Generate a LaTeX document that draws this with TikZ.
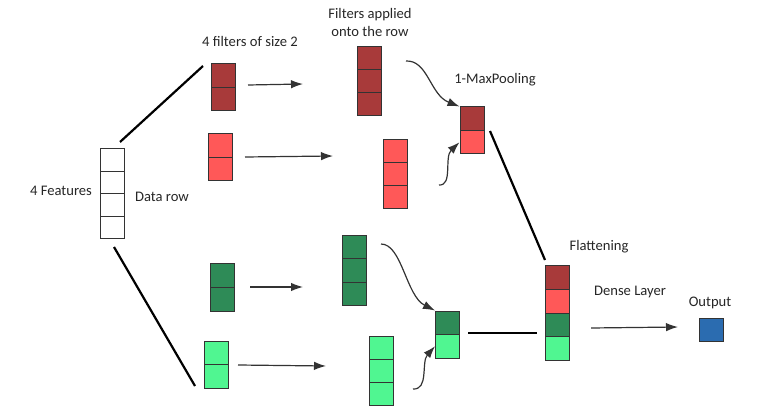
\documentclass[tikz,border=0pt]{standalone}
\usepackage{fontspec}
\setmainfont{Carlito}
\usetikzlibrary{arrows.meta}
\definecolor{dred}{RGB}{168,58,58}
\definecolor{lred}{RGB}{255,88,88}
\definecolor{dgreen}{RGB}{46,139,87}
\definecolor{lgreen}{RGB}{80,246,145}
\definecolor{oblue}{RGB}{43,108,176}
\begin{document}
\begin{tikzpicture}[x=1pt, y=-1pt,
    cell/.style={draw=black!80, line width=1pt, inner sep=0pt,
        minimum width=24pt, minimum height=23.5pt},
    conn/.style={line width=2.2pt},
    arr/.style={draw=black!80, line width=1.2pt, -{Latex[length=12pt, width=8.5pt]}},
    lbl/.style={font=\fontsize{14.6}{18}\selectfont, text=black!85}]
    \useasboundingbox (0, 0) rectangle (767, 419);
    % data row
    \node[cell, minimum height=22.5pt] (d1) at(112, 160.25) {};
    \node[cell, minimum height=22.5pt] (d2) at(112, 182.75) {};
    \node[cell, minimum height=22.5pt] (d3) at(112, 205.25) {};
    \node[cell, minimum height=22.5pt] (d4) at(112, 227.75) {};
    \node[lbl] (feat) at(61, 191) {4 Features};
    \node[lbl] (row) at(162, 197) {Data row};
    % filters
    \node[lbl] (filt) at(250, 41) {4 filters of size 2};
    \node[cell, fill=dred] (fa1) at(223, 75.75) {};
    \node[cell, fill=dred] (fa2) at(223, 99.25) {};
    \node[cell, fill=lred] (fb1) at(220.5, 145.75) {};
    \node[cell, fill=lred] (fb2) at(220.5, 169.25) {};
    \node[cell, fill=dgreen] (fc1) at(222, 275.75) {};
    \node[cell, fill=dgreen] (fc2) at(222, 299.25) {};
    \node[cell, fill=lgreen] (fd1) at(216, 352.75) {};
    \node[cell, fill=lgreen] (fd2) at(216, 376.25) {};
    % filters applied
    \node[lbl, align=center] (appl) at(370, 22.5) {Filters applied\\onto the row};
    \node[cell, fill=dred, minimum height=23pt] (aa1) at(369, 58.5) {};
    \node[cell, fill=dred, minimum height=23pt] (aa2) at(369, 81.5) {};
    \node[cell, fill=dred, minimum height=23pt] (aa3) at(369, 104.5) {};
    \node[cell, fill=lred, minimum height=23pt] (ab1) at(395, 151.5) {};
    \node[cell, fill=lred, minimum height=23pt] (ab2) at(395, 174.5) {};
    \node[cell, fill=lred, minimum height=23pt] (ab3) at(395, 197.5) {};
    \node[cell, fill=dgreen, minimum height=23pt] (ac1) at(354, 247.5) {};
    \node[cell, fill=dgreen, minimum height=23pt] (ac2) at(354, 270.5) {};
    \node[cell, fill=dgreen, minimum height=23pt] (ac3) at(354, 293.5) {};
    \node[cell, fill=lgreen, minimum height=23pt] (ad1) at(381, 347.5) {};
    \node[cell, fill=lgreen, minimum height=23pt] (ad2) at(381, 370.5) {};
    \node[cell, fill=lgreen, minimum height=23pt] (ad3) at(381, 393.5) {};
    % max pooling
    \node[lbl] (maxp) at(495, 80) {1-MaxPooling};
    \node[cell, fill=dred] (pa1) at(472, 118.75) {};
    \node[cell, fill=lred] (pa2) at(472, 142.25) {};
    \node[cell, fill=dgreen] (pb1) at(447.5, 322.75) {};
    \node[cell, fill=lgreen] (pb2) at(447.5, 346.25) {};
    % flattening
    \node[lbl] (flat) at(599, 247) {Flattening};
    \node[cell, fill=dred] (fl1) at(557, 277.75) {};
    \node[cell, fill=lred] (fl2) at(557, 301.25) {};
    \node[cell, fill=dgreen] (fl3) at(557, 324.75) {};
    \node[cell, fill=lgreen] (fl4) at(557, 348.25) {};
    % output
    \node[lbl] (dense) at(630, 292) {Dense Layer};
    \node[lbl] (outl) at(710, 303) {Output};
    \node[cell, fill=oblue, minimum height=23pt] (out) at(711, 329.5) {};
    % free ends
    \coordinate (c1) at(120, 142);
    \coordinate (c2) at(203, 66);
    \coordinate (c3) at(114, 247);
    \coordinate (c4) at(195, 386);
    \coordinate (c5) at(490, 131);
    \coordinate (c6) at(545, 260);
    \coordinate (c7) at(468, 333);
    \coordinate (c8) at(537, 333);
    \coordinate (s1) at(248, 85);
    \coordinate (t1) at(303, 84);
    \coordinate (s2) at(245, 157);
    \coordinate (t2) at(333, 156);
    \coordinate (s3) at(250, 287);
    \coordinate (t3) at(303, 287);
    \coordinate (s4) at(238, 365);
    \coordinate (t4) at(326, 366);
    \coordinate (s5) at(406, 61);
    \coordinate (s6) at(439, 185);
    \coordinate (s7) at(381, 244);
    \coordinate (s8) at(413, 389);
    \coordinate (s9) at(591, 328);
    \coordinate (t9) at(678, 327);
    \draw[conn] (c1) -- (c2);
    \draw[conn] (c3) -- (c4);
    \draw[conn] (c5) -- (c6);
    \draw[conn] (c7) -- (c8);
    \draw[arr] (s1) -- (t1);
    \draw[arr] (s2) -- (t2);
    \draw[arr] (s3) -- (t3);
    \draw[arr] (s4) -- (t4);
    \draw[arr] (s5) .. controls (428, 60) and (430, 95) .. (pa1.north west);
    \draw[arr] (s6) .. controls (453, 186) and (444, 157) .. (pa2.west);
    \draw[arr] (s7) .. controls (402, 244) and (406, 296) .. (pb1.north west);
    \draw[arr] (s8) .. controls (429, 390) and (421, 362) .. (pb2.west);
    \draw[arr] (s9) -- (t9);
\end{tikzpicture}
\end{document}
